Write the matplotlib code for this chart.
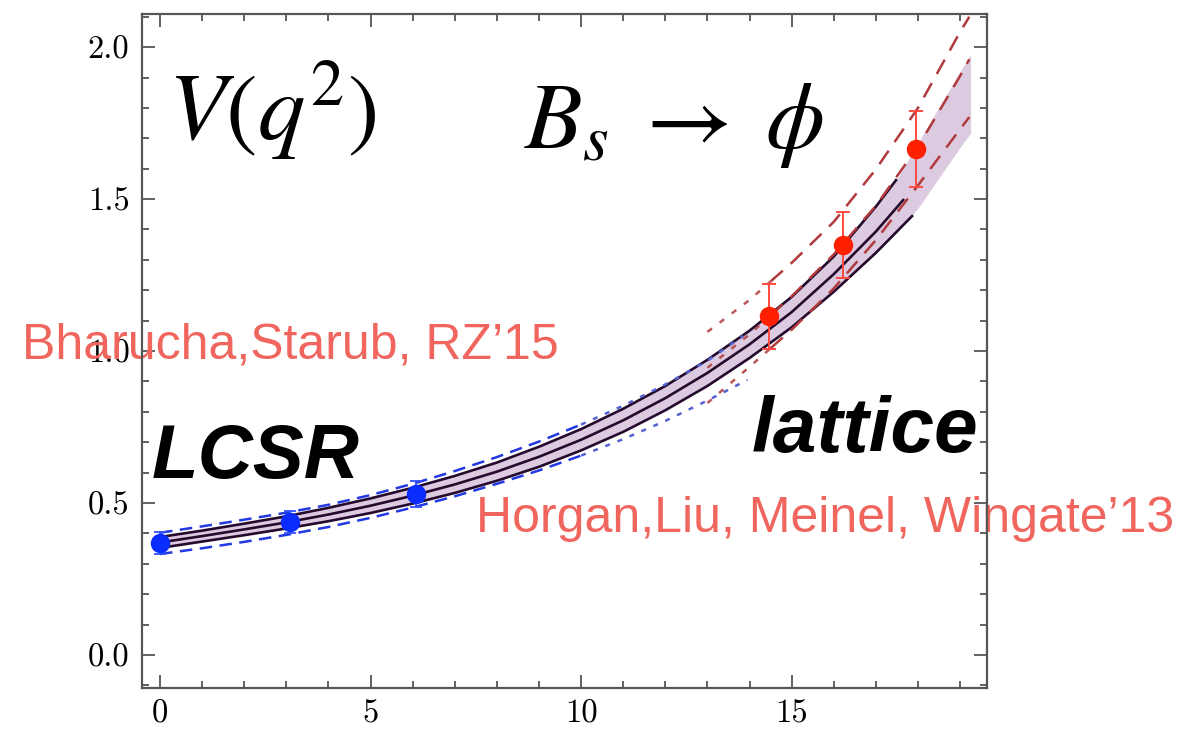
import numpy as np
import matplotlib
matplotlib.use("Agg")
import matplotlib.pyplot as plt
from matplotlib.ticker import MultipleLocator, FormatStrFormatter

plt.rcParams['mathtext.fontset'] = 'stix'

# data points: LCSR (blue) and lattice (red)
lcsr_q2 = [0.0, 3.09, 6.08]
lcsr_v = [0.368, 0.437, 0.530]
lcsr_err = [0.035, 0.037, 0.043]

lat_q2 = [14.47, 16.22, 17.96]
lat_v = [1.115, 1.349, 1.664]
lat_err = [0.107, 0.108, 0.125]

# combined fit, three solid curves
fit_q2 = [0, 1, 2, 3, 4, 5, 6, 7, 8, 9, 10, 11, 12, 13, 14, 15, 16, 17]
fit_up = [0.388, 0.409, 0.432, 0.456, 0.484, 0.515, 0.550, 0.589, 0.633, 0.685,
          0.743, 0.810, 0.885, 0.971, 1.067, 1.178, 1.311, 1.475]
fit_mid = [0.370, 0.391, 0.413, 0.436, 0.462, 0.491, 0.524, 0.561, 0.603, 0.652,
           0.708, 0.772, 0.845, 0.928, 1.022, 1.128, 1.253, 1.393]
fit_lo = [0.352, 0.373, 0.394, 0.416, 0.440, 0.467, 0.498, 0.533, 0.573, 0.619,
          0.673, 0.734, 0.805, 0.885, 0.977, 1.078, 1.195, 1.323]
fit_up_end = (17.48, 1.5625)
fit_mid_end = (17.65, 1.497)
fit_lo_end = (17.86, 1.444)

# shaded band
band_q2 = fit_q2 + [17.5, 18, 19, 19.25]
band_up = fit_up + [1.565, 1.685, 1.920, 1.975]
band_lo = fit_lo + [1.390, 1.470, 1.670, 1.717]

# LCSR error band (blue dashed, dotted beyond q2 = 10)
lcsr_up_q2 = [0, 1, 2, 3, 4, 5, 6, 7, 8, 9, 10, 11, 12, 13, 13.85]
lcsr_up = [0.402, 0.423, 0.445, 0.468, 0.494, 0.526, 0.563, 0.605, 0.651, 0.702,
           0.758, 0.820, 0.890, 0.968, 1.050]
lcsr_lo_q2 = [0, 1, 2, 3, 4, 5, 6, 7, 8, 9, 10, 11, 12, 13, 13.95]
lcsr_lo = [0.332, 0.351, 0.372, 0.395, 0.421, 0.451, 0.485, 0.522, 0.563, 0.607,
           0.656, 0.710, 0.770, 0.837, 0.905]
lcsr_switch = 10

# lattice fit (red dashed, dotted below q2 = 14.5)
lfit_q2 = [13, 14, 14.5, 15, 16, 17, 18, 19, 19.22]
lfit_up = [1.063, 1.168, 1.229, 1.290, 1.425, 1.598, 1.800, 2.050, 2.100]
lfit_mid = [0.945, 1.055, 1.117, 1.180, 1.318, 1.478, 1.672, 1.905, 1.960]
lfit_lo = [0.829, 0.948, 1.009, 1.070, 1.206, 1.365, 1.545, 1.730, 1.770]
lfit_switch = 14.5

fig = plt.figure(figsize=(12, 7.31), dpi=100)
ax = fig.add_axes([0.1183, 0.0588, 0.7042, 0.922])

band_col = '#dccbe0'
line_col = '#250a2e'
blue = '#2238e0'
blue_dot = '#5561d2'
red_line = '#b03a3c'

ax.fill_between(band_q2, band_lo, band_up, color=band_col, lw=0, zorder=1)
ax.plot(fit_q2 + [fit_up_end[0]], fit_up + [fit_up_end[1]], color=line_col, lw=1.9, zorder=3)
ax.plot(fit_q2 + [fit_mid_end[0]], fit_mid + [fit_mid_end[1]], color=line_col, lw=1.9, zorder=3)
ax.plot(fit_q2 + [fit_lo_end[0]], fit_lo + [fit_lo_end[1]], color=line_col, lw=1.9, zorder=3)

for qq, vv in [(lcsr_up_q2, lcsr_up), (lcsr_lo_q2, lcsr_lo)]:
    qq = np.array(qq); vv = np.array(vv)
    a = qq <= lcsr_switch
    b = qq >= lcsr_switch
    ax.plot(qq[a], vv[a], color=blue, lw=1.8, dashes=(5, 3), zorder=4)
    ax.plot(qq[b], vv[b], color=blue_dot, lw=1.8, dashes=(2, 3.2), zorder=4)

for vv in [lfit_up, lfit_mid, lfit_lo]:
    qq = np.array(lfit_q2); vv = np.array(vv)
    a = qq <= lfit_switch
    b = qq >= lfit_switch
    ax.plot(qq[a], vv[a], color=red_line, lw=1.8, dashes=(2.3, 3.8), alpha=0.85, zorder=4)
    ax.plot(qq[b], vv[b], color=red_line, lw=1.8, dashes=(6.5, 4.2), zorder=4)

ax.errorbar(lcsr_q2, lcsr_v, yerr=lcsr_err, fmt='o', color='#0a2cff', ms=13,
            ecolor='#3050ff', elinewidth=1.3, capsize=4.5, capthick=1.3, zorder=6)
ax.errorbar(lat_q2, lat_v, yerr=lat_err, fmt='o', color='#ff2000', ms=13,
            ecolor='#ff4a40', elinewidth=1.4, capsize=5, capthick=1.4, zorder=6)

ax.set_xlim(-0.43, 19.64)
ax.set_ylim(-0.109, 2.109)
ax.xaxis.set_major_locator(MultipleLocator(5))
ax.xaxis.set_minor_locator(MultipleLocator(1))
ax.yaxis.set_major_locator(MultipleLocator(0.5))
ax.yaxis.set_minor_locator(MultipleLocator(0.1))
ax.xaxis.set_major_formatter(FormatStrFormatter('%d'))
ax.yaxis.set_major_formatter(FormatStrFormatter('%.1f'))
ax.tick_params(which='both', direction='in', top=True, right=True,
               color='#555555', width=1.3)
ax.tick_params(which='major', length=9.5, labelsize=23.5, pad=9)
ax.tick_params(axis='x', which='major', pad=8)
ax.tick_params(which='minor', length=5)
for lab in ax.get_xticklabels() + ax.get_yticklabels():
    lab.set_fontfamily('cmr10')
for sp in ax.spines.values():
    sp.set_color('#555555')
    sp.set_linewidth(1.6)

tf = fig.transFigure
ax.text(0.14, 0.808, r'$V(q^2)$', transform=tf, fontsize=68, zorder=7)
ax.text(0.437, 0.797, r'$B_s\;\rightarrow\;\phi$', transform=tf, fontsize=68, zorder=7)
ax.text(0.126, 0.346, 'LCSR', transform=tf, fontsize=55, fontweight='bold',
        fontstyle='italic', family='Liberation Sans', zorder=7)
ax.text(0.626, 0.382, 'lattice', transform=tf, fontsize=56.5, fontweight='bold',
        fontstyle='italic', family='Liberation Sans', zorder=7)
ax.text(0.018, 0.510, 'Bharucha,Starub, RZ\u201915', transform=tf, fontsize=36,
        color='#f0665e', family='Liberation Sans', zorder=2, clip_on=False)
ax.text(0.397, 0.272, 'Horgan,Liu, Meinel, Wingate\u201913', transform=tf, fontsize=36,
        color='#f0665e', family='Liberation Sans', zorder=2, clip_on=False)

fig.savefig('out.png', dpi=100)
